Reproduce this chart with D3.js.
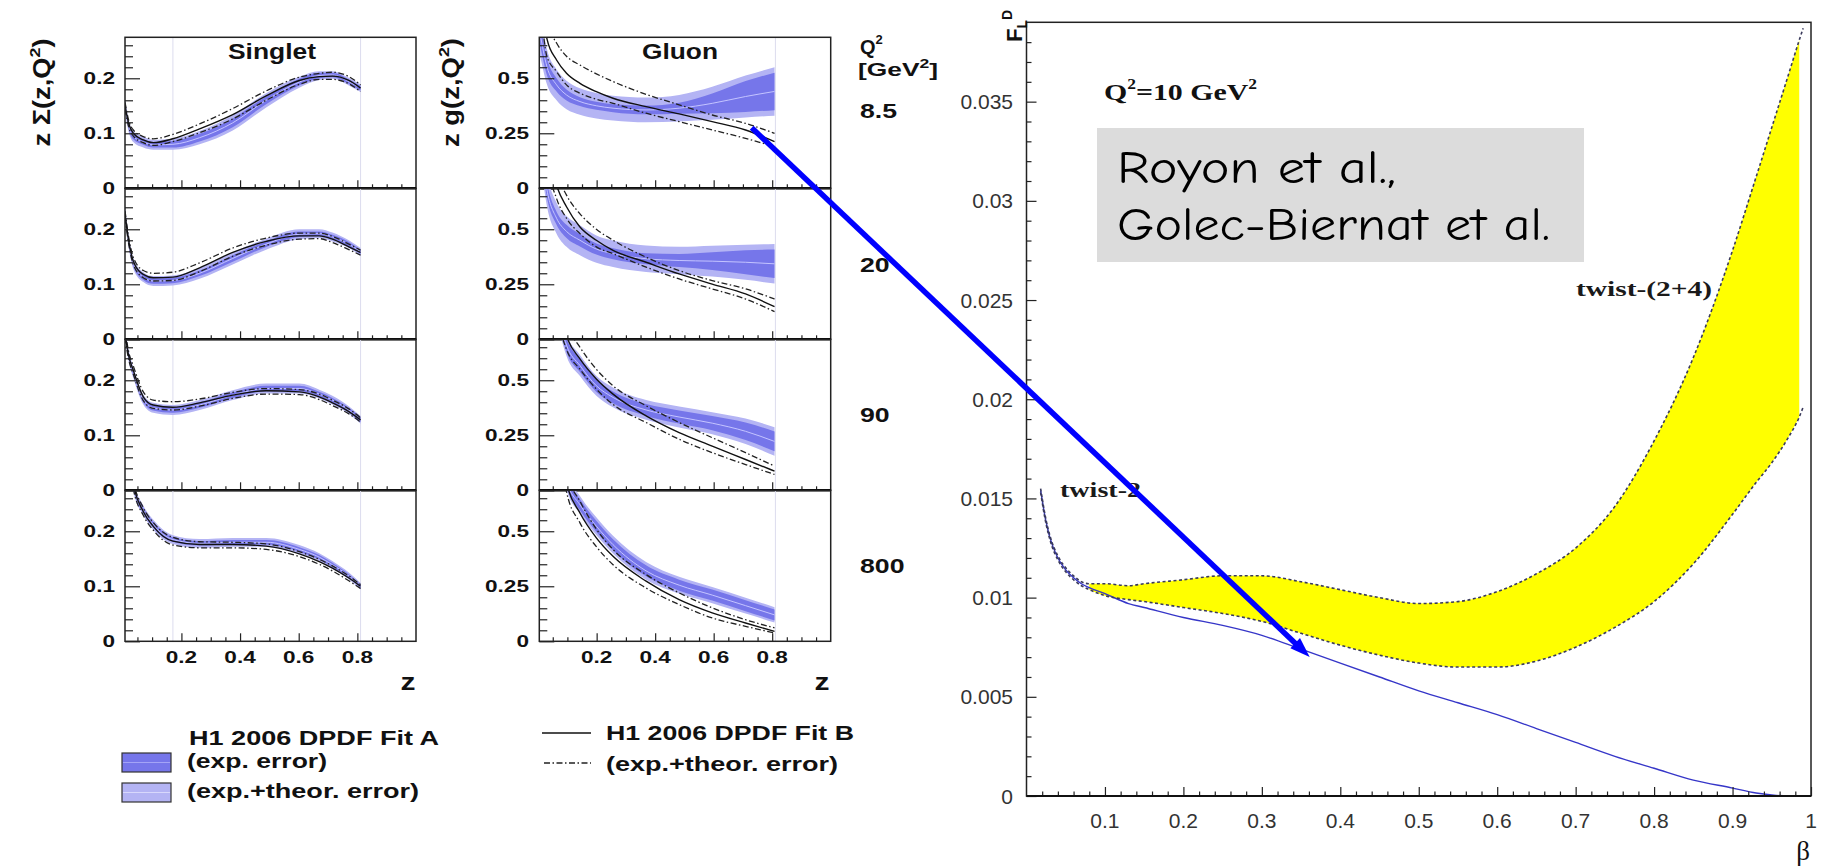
<!DOCTYPE html>
<html>
<head>
<meta charset="utf-8">
<script src="https://cdn.jsdelivr.net/npm/d3@7"></script>
<style>
  html, body { margin: 0; padding: 0; background: #ffffff; }
  svg { display: block; }
</style>
</head>
<body>
<svg id="chart" width="1822" height="866"></svg>
<script>
// ---------------- data ----------------
const q2Values = ["8.5", "20", "90", "800"];

// Singlet z Sigma(z,Q^2): z grid and curves per Q^2 bin
const singletZ = [0.0078, 0.02, 0.036, 0.07, 0.104, 0.171, 0.262, 0.375, 0.489, 0.602, 0.670, 0.715, 0.771, 0.811];
const singletFitA = [
  [0.150, 0.114, 0.094, 0.084, 0.079, 0.080, 0.092, 0.119, 0.160, 0.193, 0.205, 0.206, 0.194, 0.182],
  [0.230, 0.178, 0.138, 0.113, 0.106, 0.107, 0.120, 0.147, 0.173, 0.191, 0.192, 0.186, 0.173, 0.159],
  [0.285, 0.245, 0.214, 0.165, 0.150, 0.146, 0.155, 0.173, 0.185, 0.185, 0.175, 0.164, 0.146, 0.128],
  [0.400, 0.340, 0.283, 0.238, 0.212, 0.185, 0.178, 0.180, 0.180, 0.167, 0.153, 0.139, 0.119, 0.100]
];
const singletExpErr = [
  [0.006, 0.006, 0.005, 0.005, 0.005, 0.006, 0.007, 0.008, 0.007, 0.006, 0.005, 0.004, 0.004, 0.004],
  [0.006, 0.006, 0.005, 0.005, 0.005, 0.005, 0.005, 0.006, 0.005, 0.005, 0.004, 0.004, 0.004, 0.004],
  [0.006, 0.006, 0.005, 0.005, 0.005, 0.005, 0.005, 0.005, 0.005, 0.005, 0.004, 0.004, 0.004, 0.004],
  [0.006, 0.006, 0.005, 0.005, 0.005, 0.004, 0.004, 0.004, 0.004, 0.004, 0.004, 0.004, 0.003, 0.003]
];
const singletTotErr = [
  [0.012, 0.011, 0.010, 0.010, 0.009, 0.010, 0.012, 0.014, 0.013, 0.010, 0.008, 0.007, 0.007, 0.007],
  [0.012, 0.011, 0.010, 0.009, 0.009, 0.009, 0.010, 0.011, 0.010, 0.009, 0.008, 0.008, 0.007, 0.007],
  [0.012, 0.011, 0.010, 0.009, 0.009, 0.009, 0.009, 0.009, 0.009, 0.009, 0.008, 0.008, 0.007, 0.007],
  [0.012, 0.011, 0.010, 0.009, 0.009, 0.008, 0.008, 0.008, 0.008, 0.008, 0.007, 0.007, 0.006, 0.006]
];
const singletFitB = [
  [0.150, 0.118, 0.100, 0.088, 0.083, 0.090, 0.108, 0.134, 0.168, 0.196, 0.203, 0.204, 0.196, 0.182],
  [0.227, 0.180, 0.142, 0.118, 0.112, 0.113, 0.130, 0.158, 0.178, 0.188, 0.188, 0.182, 0.168, 0.158],
  [0.285, 0.245, 0.218, 0.170, 0.155, 0.151, 0.159, 0.173, 0.181, 0.179, 0.170, 0.159, 0.143, 0.128],
  [0.400, 0.340, 0.285, 0.236, 0.209, 0.182, 0.176, 0.176, 0.173, 0.159, 0.145, 0.133, 0.115, 0.100]
];
const singletFitBUp = [
  [0.156, 0.124, 0.106, 0.094, 0.090, 0.098, 0.117, 0.145, 0.177, 0.202, 0.209, 0.211, 0.203, 0.188],
  [0.233, 0.186, 0.149, 0.125, 0.120, 0.122, 0.139, 0.166, 0.184, 0.193, 0.193, 0.187, 0.173, 0.162],
  [0.292, 0.252, 0.226, 0.179, 0.164, 0.161, 0.166, 0.178, 0.185, 0.183, 0.175, 0.164, 0.148, 0.132],
  [0.410, 0.350, 0.293, 0.243, 0.216, 0.189, 0.181, 0.180, 0.177, 0.163, 0.149, 0.137, 0.119, 0.103]
];
const singletFitBDown = [
  [0.144, 0.112, 0.095, 0.083, 0.078, 0.085, 0.101, 0.126, 0.160, 0.189, 0.198, 0.198, 0.190, 0.176],
  [0.221, 0.174, 0.136, 0.112, 0.106, 0.107, 0.123, 0.151, 0.171, 0.182, 0.183, 0.176, 0.163, 0.153],
  [0.278, 0.238, 0.211, 0.163, 0.149, 0.146, 0.153, 0.167, 0.175, 0.174, 0.165, 0.154, 0.139, 0.124],
  [0.390, 0.330, 0.277, 0.229, 0.202, 0.175, 0.170, 0.170, 0.167, 0.154, 0.140, 0.128, 0.110, 0.096]
];

// Gluon z g(z,Q^2)
const gluonZ = [0.007, 0.03, 0.063, 0.097, 0.143, 0.199, 0.256, 0.369, 0.482, 0.595, 0.709, 0.808];
const gluonFitA = [
  [0.70, 0.553, 0.47, 0.424, 0.394, 0.375, 0.364, 0.356, 0.364, 0.386, 0.417, 0.440],
  [0.90, 0.68, 0.55, 0.49, 0.45, 0.41, 0.389, 0.366, 0.358, 0.355, 0.350, 0.343],
  [1.7, 1.15, 0.84, 0.66, 0.567, 0.475, 0.422, 0.365, 0.333, 0.305, 0.268, 0.222],
  [2.5, 1.6, 1.05, 0.73, 0.62, 0.523, 0.439, 0.32, 0.255, 0.21, 0.162, 0.12]
];
const gluonExpErr = [
  [0.05, 0.038, 0.03, 0.025, 0.02, 0.018, 0.018, 0.02, 0.025, 0.045, 0.07, 0.085],
  [0.04, 0.035, 0.03, 0.03, 0.028, 0.025, 0.025, 0.025, 0.03, 0.04, 0.055, 0.065],
  [0.03, 0.03, 0.03, 0.03, 0.03, 0.028, 0.027, 0.027, 0.03, 0.032, 0.04, 0.045],
  [0.025, 0.025, 0.025, 0.025, 0.025, 0.025, 0.025, 0.025, 0.025, 0.025, 0.025, 0.025]
];
const gluonTotErr = [
  [0.10, 0.08, 0.07, 0.065, 0.06, 0.058, 0.056, 0.056, 0.06, 0.075, 0.095, 0.11],
  [0.08, 0.075, 0.07, 0.07, 0.068, 0.062, 0.06, 0.06, 0.062, 0.07, 0.08, 0.09],
  [0.05, 0.05, 0.05, 0.05, 0.048, 0.045, 0.045, 0.045, 0.048, 0.05, 0.058, 0.065],
  [0.04, 0.04, 0.04, 0.04, 0.04, 0.04, 0.04, 0.04, 0.038, 0.037, 0.036, 0.035]
];
const gluonFitB = [
  [0.95, 0.68, 0.583, 0.523, 0.477, 0.439, 0.409, 0.371, 0.338, 0.303, 0.265, 0.212],
  [1.3, 0.90, 0.70, 0.602, 0.51, 0.45, 0.404, 0.35, 0.297, 0.251, 0.206, 0.148],
  [1.8, 1.2, 0.88, 0.70, 0.597, 0.506, 0.437, 0.338, 0.262, 0.201, 0.140, 0.087],
  [2.5, 1.6, 1.05, 0.72, 0.583, 0.47, 0.386, 0.273, 0.189, 0.129, 0.083, 0.045]
];
const gluonFitBUp = [
  [1.05, 0.76, 0.66, 0.60, 0.56, 0.52, 0.485, 0.427, 0.379, 0.333, 0.295, 0.250],
  [1.4, 0.98, 0.76, 0.655, 0.57, 0.50, 0.45, 0.373, 0.312, 0.267, 0.229, 0.183],
  [1.9, 1.3, 0.95, 0.76, 0.65, 0.55, 0.475, 0.384, 0.308, 0.239, 0.171, 0.110],
  [2.6, 1.7, 1.1, 0.77, 0.636, 0.51, 0.417, 0.303, 0.22, 0.152, 0.098, 0.061]
];
const gluonFitBDown = [
  [0.85, 0.60, 0.53, 0.47, 0.432, 0.405, 0.386, 0.341, 0.303, 0.265, 0.227, 0.189],
  [1.2, 0.82, 0.64, 0.55, 0.48, 0.42, 0.389, 0.328, 0.274, 0.229, 0.183, 0.126],
  [1.7, 1.1, 0.80, 0.64, 0.55, 0.46, 0.39, 0.308, 0.232, 0.171, 0.117, 0.072],
  [2.4, 1.5, 1.0, 0.68, 0.538, 0.43, 0.348, 0.242, 0.167, 0.106, 0.068, 0.038]
];

// Diffractive F_L^D at Q^2 = 10 GeV^2 versus beta
const betaValues = [0.018, 0.025, 0.03, 0.04, 0.05, 0.06, 0.07, 0.08, 0.1, 0.13, 0.15, 0.2, 0.25, 0.3, 0.35, 0.4, 0.45, 0.5, 0.55, 0.6, 0.65, 0.7, 0.75, 0.8, 0.85, 0.9, 0.93, 0.95, 0.97, 0.985, 0.99, 1.0];
const twist2 = [0.0154, 0.0138, 0.0130, 0.0120, 0.0114, 0.0110, 0.0107, 0.0105, 0.0102, 0.0097, 0.0095, 0.0090, 0.0086, 0.0081, 0.0074, 0.0067, 0.0060, 0.0053, 0.0047, 0.0041, 0.0034, 0.0027, 0.0020, 0.0014, 0.0008, 0.0004, 0.00015, 0.00005, 0.0, 0.0, 0.0, 0.0];
const twist24Upper = [0.0155, 0.0139, 0.0131, 0.0121, 0.0115, 0.0111, 0.0108, 0.0107, 0.0107, 0.0106, 0.0107, 0.0109, 0.0111, 0.0111, 0.0108, 0.0104, 0.0100, 0.0097, 0.0098, 0.0103, 0.0112, 0.0125, 0.0146, 0.0179, 0.0221, 0.0275, 0.0312, 0.0337, 0.0362, 0.0381, 0.0387, null];
const twist24Lower = [0.0153, 0.0137, 0.0129, 0.0119, 0.0113, 0.0109, 0.0106, 0.0104, 0.0101, 0.0099, 0.0098, 0.0095, 0.0092, 0.0088, 0.0082, 0.0076, 0.0071, 0.0067, 0.0065, 0.0065, 0.0068, 0.0075, 0.0085, 0.0098, 0.0117, 0.0142, 0.0158, 0.0168, 0.0180, 0.0191, 0.0196, null];

const zTickLabels = ["0.2", "0.4", "0.6", "0.8"];
const singletTickLabels = ["0", "0.1", "0.2"];
const gluonTickLabels = ["0", "0.25", "0.5"];
const betaTickLabels = ["0.1", "0.2", "0.3", "0.4", "0.5", "0.6", "0.7", "0.8", "0.9", "1"];
const fldTickLabels = ["0", "0.005", "0.01", "0.015", "0.02", "0.025", "0.03", "0.035"];

// ---------------- styling ----------------
const SANS = "'Liberation Sans', Arial, Helvetica, sans-serif";
const SERIF = "'Liberation Serif', 'Times New Roman', serif";
const HAND = "'Comic Sans MS', 'Comic Neue', 'Noto Sans', sans-serif";
const BAND_TOT = "#b4b4f4";
const BAND_EXP = "#7676ea";
const CENTRAL_A = "#c4c4ff";

const svg = d3.select("#chart");
const defs = svg.append("defs");

// text helper: places a label with optional horizontal stretch / rotation / fixed length
function label(parent, o) {
  const g = parent.append("g")
    .attr("transform", `translate(${o.x},${o.y}) rotate(${o.rotate || 0}) scale(${o.sx || 1},1)`);
  const t = g.append("text")
    .attr("text-anchor", o.anchor || "start")
    .attr("font-family", o.family || SANS)
    .attr("font-weight", o.weight || "bold")
    .attr("font-size", o.size || 16)
    .attr("fill", o.fill || "#111");
  if (o.dy) t.attr("dy", o.dy);
  if (o.len) t.attr("textLength", o.len).attr("lengthAdjust", "spacingAndGlyphs");
  if (o.text !== undefined) t.text(o.text);
  return t;
}

// ---------------- left block: singlet and gluon ----------------
const PANEL_TOP = 37.3, PANEL_H = 151;
const singletX = d3.scaleLinear().domain([0.0076, 1]).range([125, 416]);
const gluonX = d3.scaleLinear().domain([0.004, 1]).range([539.3, 830.7]);

function drawColumn(cfg) {
  const { x, yMax, major, minorStep, labels, grid, A, Aexp, Atot, B, Bup, Bdn, labelX, name, faint } = cfg;
  const [x0, x1] = x.range();
  const gluonCol = name === "gluon";
  const panelScales = [];

  for (let i = 0; i < 4; i++) {
    const top = PANEL_TOP + i * PANEL_H, bottom = top + PANEL_H;
    const y = d3.scaleLinear().domain([0, yMax]).range([bottom, top]);
    panelScales.push(y);
    const clipId = `clip-${name}-${i}`;
    defs.append("clipPath").attr("id", clipId)
      .append("rect").attr("x", x0).attr("y", top).attr("width", x1 - x0).attr("height", PANEL_H);

    const g = svg.append("g");
    const plot = g.append("g").attr("clip-path", `url(#${clipId})`);

    // faint fit-range markers
    faint.forEach(z => {
      plot.append("line").attr("x1", x(z)).attr("x2", x(z)).attr("y1", top).attr("y2", bottom)
        .attr("stroke", "#dcdcee").attr("stroke-width", 1);
    });

    const rows = grid.map((z, k) => ({ z, a: A[i][k], e: Aexp[i][k], t: Atot[i][k], b: B[i][k], bu: Bup[i][k], bd: Bdn[i][k] }));

    const band = (key) => d3.area().curve(d3.curveMonotoneX)
      .x(d => x(d.z)).y0(d => y(d.a - d[key])).y1(d => y(d.a + d[key]));
    const line = (acc) => d3.line().curve(d3.curveMonotoneX).x(d => x(d.z)).y(d => y(acc(d)));

    plot.append("path").datum(rows).attr("d", band("t")).attr("fill", BAND_TOT);
    plot.append("path").datum(rows).attr("d", band("e")).attr("fill", BAND_EXP);
    plot.append("path").datum(rows).attr("d", line(d => d.a)).attr("fill", "none")
      .attr("stroke", CENTRAL_A).attr("stroke-width", 1);
    plot.append("path").datum(rows).attr("d", line(d => d.bu)).attr("fill", "none")
      .attr("stroke", "#222").attr("stroke-width", 1.3).attr("stroke-dasharray", "6,2.5,1.5,2.5");
    plot.append("path").datum(rows).attr("d", line(d => d.bd)).attr("fill", "none")
      .attr("stroke", "#222").attr("stroke-width", 1.3).attr("stroke-dasharray", "6,2.5,1.5,2.5");
    plot.append("path").datum(rows).attr("d", line(d => d.b)).attr("fill", "none")
      .attr("stroke", "#111").attr("stroke-width", 1.4);

    // y ticks (inside the frame)
    const minor = d3.range(0, yMax, minorStep).filter(v => Math.abs(v / major - Math.round(v / major)) > 1e-6);
    const majorVals = d3.range(0, yMax, major);
    const axMinor = g.append("g").attr("transform", `translate(${x0},0)`)
      .call(d3.axisLeft(y).tickValues(minor).tickSize(-8).tickFormat(""));
    const axMajor = g.append("g").attr("transform", `translate(${x0},0)`)
      .call(d3.axisLeft(y).tickValues(majorVals).tickSize(-15).tickFormat(""));
    // x ticks along each panel's bottom edge
    const xMinor = d3.range(0.05, 1.0, 0.05).filter(v => Math.abs(v / 0.2 - Math.round(v / 0.2)) > 1e-6);
    const axXMinor = g.append("g").attr("transform", `translate(0,${bottom})`)
      .call(d3.axisBottom(x).tickValues(xMinor).tickSize(-4).tickFormat(""));
    const axXMajor = g.append("g").attr("transform", `translate(0,${bottom})`)
      .call(d3.axisBottom(x).tickValues([0.2, 0.4, 0.6, 0.8]).tickSize(-8).tickFormat(""));
    [axMinor, axMajor, axXMinor, axXMajor].forEach(ax => {
      ax.select(".domain").remove();
      ax.selectAll("line").attr("stroke", "#222").attr("stroke-width", 1.2);
    });

    // frame
    g.append("rect").attr("x", x0).attr("y", top).attr("width", x1 - x0).attr("height", PANEL_H)
      .attr("fill", "none").attr("stroke", "#222").attr("stroke-width", 1.5);
    if (i < 3) {
      g.append("line").attr("x1", x0).attr("x2", x1).attr("y1", bottom).attr("y2", bottom)
        .attr("stroke", "#000").attr("stroke-width", 2.4);
    }

    // y tick labels
    majorVals.forEach((v, k) => {
      label(svg, { x: labelX, y: y(v), text: labels[k], anchor: "end", size: 16.5, sx: 1.37, dy: "0.36em" });
    });
  }

  // z tick labels under the bottom panel
  const lastBottom = PANEL_TOP + 4 * PANEL_H;
  [0.2, 0.4, 0.6, 0.8].forEach((v, k) => {
    label(svg, { x: x(v), y: lastBottom + 22, text: zTickLabels[k], anchor: "middle", size: 16.5, sx: 1.37 });
  });
  label(svg, { x: gluonCol ? 822 : 408, y: lastBottom + 49, text: "z", anchor: "middle", size: 24, sx: 1.25 });
  return panelScales;
}

drawColumn({
  x: singletX, yMax: 0.2745, major: 0.1, minorStep: 0.02, labels: singletTickLabels,
  grid: singletZ, A: singletFitA, Aexp: singletExpErr, Atot: singletTotErr,
  B: singletFitB, Bup: singletFitBUp, Bdn: singletFitBDown, labelX: 115, name: "singlet", faint: [0.171, 0.811]
});
const gluonScales = drawColumn({
  x: gluonX, yMax: 0.686, major: 0.25, minorStep: 0.05, labels: gluonTickLabels,
  grid: gluonZ, A: gluonFitA, Aexp: gluonExpErr, Atot: gluonTotErr,
  B: gluonFitB, Bup: gluonFitBUp, Bdn: gluonFitBDown, labelX: 529, name: "gluon", faint: [0.811]
});

// column titles
label(svg, { x: 272, y: 59, text: "Singlet", anchor: "middle", size: 22, len: 88 });
label(svg, { x: 680, y: 59, text: "Gluon", anchor: "middle", size: 22, len: 76 });

// rotated y titles
function yTitle(x, y, prefix, len) {
  const t = label(svg, { x, y, rotate: -90, anchor: "middle", size: 23, len });
  t.append("tspan").text(prefix + "(z,Q");
  t.append("tspan").attr("font-size", 15).attr("dy", -10).text("2");
  t.append("tspan").attr("dy", 10).text(")");
}
yTitle(50, 92.5, "z \u03A3", 108);
yTitle(459, 92.5, "z g", 109);

// Q^2 column
{
  const t = label(svg, { x: 860, y: 54, size: 20 });
  t.append("tspan").text("Q");
  t.append("tspan").attr("font-size", 13).attr("dy", -10).text("2");
  const u = label(svg, { x: 858, y: 76, size: 18, len: 80, weight: "bold" });
  u.append("tspan").text("[GeV");
  u.append("tspan").attr("font-size", 12).attr("dy", -8).text("2");
  u.append("tspan").attr("dy", 8).text("]");
  const baselines = [118, 272, 422, 573];
  q2Values.forEach((q, i) => label(svg, { x: 860, y: baselines[i], text: q, size: 21, sx: 1.27 }));
}

// legend
{
  const L = svg.append("g");
  label(L, { x: 189, y: 745, text: "H1 2006 DPDF Fit A", size: 21, len: 250 });
  [[753, BAND_EXP, "#a4a4f6"], [783, BAND_TOT, "#d8d8fc"]].forEach(([yy, fill, mid]) => {
    L.append("rect").attr("x", 122).attr("y", yy).attr("width", 49).attr("height", 19)
      .attr("fill", fill).attr("stroke", "#333").attr("stroke-width", 1.2);
    L.append("line").attr("x1", 123).attr("x2", 170).attr("y1", yy + 9.5).attr("y2", yy + 9.5)
      .attr("stroke", mid).attr("stroke-width", 1.2);
  });
  label(L, { x: 187, y: 768, text: "(exp. error)", size: 21, len: 140 });
  label(L, { x: 187, y: 798, text: "(exp.+theor. error)", size: 21, len: 232 });
  L.append("line").attr("x1", 542).attr("x2", 591).attr("y1", 733).attr("y2", 733)
    .attr("stroke", "#111").attr("stroke-width", 1.5);
  label(L, { x: 606, y: 740, text: "H1 2006 DPDF Fit B", size: 21, len: 248 });
  L.append("line").attr("x1", 544).attr("x2", 591).attr("y1", 763).attr("y2", 763)
    .attr("stroke", "#222").attr("stroke-width", 1.3).attr("stroke-dasharray", "6,2.5,1.5,2.5");
  label(L, { x: 606, y: 771, text: "(exp.+theor. error)", size: 21, len: 232 });
}

// ---------------- right block: F_L^D ----------------
const bX = d3.scaleLinear().domain([0, 1]).range([1026.5, 1811]);
const fY = d3.scaleLinear().domain([0, 0.039]).range([796, 22.3]);
const rows = betaValues.map((b, k) => ({ b, t2: twist2[k], up: twist24Upper[k], lo: twist24Lower[k] }));
const R = svg.append("g");

R.append("path").datum(rows.filter(d => d.b >= 0.08 && d.b <= 0.985))
  .attr("d", d3.area().curve(d3.curveMonotoneX).x(d => bX(d.b)).y0(d => fY(d.lo)).y1(d => fY(d.up)))
  .attr("fill", "#ffff00");
R.append("path").datum(rows)
  .attr("d", d3.line().curve(d3.curveMonotoneX).x(d => bX(d.b)).y(d => fY(d.t2)))
  .attr("fill", "none").attr("stroke", "#3636c8").attr("stroke-width", 1.4);
["up", "lo"].forEach(key => {
  R.append("path").datum(rows.filter(d => d[key] !== null))
    .attr("d", d3.line().curve(d3.curveMonotoneX).x(d => bX(d.b)).y(d => fY(d[key])))
    .attr("fill", "none").attr("stroke", "#3a3a5c").attr("stroke-width", 1.6).attr("stroke-dasharray", "3,2.5");
});

// axes (ticks pointing inward)
{
  const yMinor = d3.range(0.001, 0.039, 0.001).filter(v => Math.abs(v / 0.005 - Math.round(v / 0.005)) > 1e-6);
  const yMajor = d3.range(0, 0.0351, 0.005);
  const xMinor = d3.range(0.02, 1.0, 0.02).filter(v => Math.abs(v / 0.1 - Math.round(v / 0.1)) > 1e-6);
  const xMajor = d3.range(0.1, 1.01, 0.1);
  const axes = [
    R.append("g").attr("transform", `translate(${bX(0)},0)`).call(d3.axisLeft(fY).tickValues(yMinor).tickSize(-5).tickFormat("")),
    R.append("g").attr("transform", `translate(${bX(0)},0)`).call(d3.axisLeft(fY).tickValues(yMajor).tickSize(-10).tickFormat("")),
    R.append("g").attr("transform", `translate(0,${fY(0)})`).call(d3.axisBottom(bX).tickValues(xMinor).tickSize(-4.5).tickFormat("")),
    R.append("g").attr("transform", `translate(0,${fY(0)})`).call(d3.axisBottom(bX).tickValues(xMajor).tickSize(-9).tickFormat(""))
  ];
  axes.forEach(ax => { ax.select(".domain").remove(); ax.selectAll("line").attr("stroke", "#222").attr("stroke-width", 1.2); });

  R.append("rect").attr("x", bX(0)).attr("y", fY(0.039)).attr("width", bX(1) - bX(0)).attr("height", fY(0) - fY(0.039))
    .attr("fill", "none").attr("stroke", "#222").attr("stroke-width", 1.5);
  R.append("line").attr("x1", bX(0)).attr("x2", bX(1)).attr("y1", fY(0)).attr("y2", fY(0))
    .attr("stroke", "#111").attr("stroke-width", 2.2);

  yMajor.forEach((v, k) => label(R, { x: 1013, y: fY(v), text: fldTickLabels[k], anchor: "end", size: 21, weight: "normal", fill: "#333", dy: "0.36em" }));
  xMajor.forEach((v, k) => label(R, { x: bX(v), y: 828, text: betaTickLabels[k], anchor: "middle", size: 21, weight: "normal", fill: "#333" }));
  label(R, { x: 1803, y: 860, text: "\u03B2", anchor: "middle", size: 27, weight: "normal", family: SERIF });

  const f = label(R, { x: 1022, y: 42, rotate: -90, size: 22 });
  f.append("tspan").text("F");
  f.append("tspan").attr("font-size", 14).attr("dy", 5).text("L");
  f.append("tspan").attr("font-size", 14).attr("dy", -15).text("D");
}

// annotations
{
  const q = label(R, { x: 1104, y: 100, size: 24, family: SERIF, len: 153 });
  q.append("tspan").text("Q");
  q.append("tspan").attr("font-size", 14).attr("dy", -11).text("2");
  q.append("tspan").attr("dy", 11).text("=10 GeV");
  q.append("tspan").attr("font-size", 14).attr("dy", -11).text("2");

  R.append("rect").attr("x", 1097).attr("y", 128).attr("width", 487).attr("height", 134).attr("fill", "#dcdcdc");
  label(R, { x: 1117, y: 183, text: "Royon et al.,", size: 46, weight: "normal", family: HAND, len: 279, fill: "#000" });
  label(R, { x: 1117, y: 240, text: "Golec-Biernat et al.", size: 46, weight: "normal", family: HAND, len: 433, fill: "#000" });

  label(R, { x: 1576, y: 296, text: "twist-(2+4)", size: 22, family: SERIF, len: 136, fill: "#1a1a1a" });
  label(R, { x: 1060, y: 497, text: "twist-2", size: 22, family: SERIF, len: 81, fill: "#1a1a1a" });
}

// arrow from the gluon density at Q^2 = 8.5 GeV^2 to the twist-2 curve
{
  const start = [gluonX(0.73), gluonScales[0](0.275)];
  const end = [bX(0.361), fY(0.00701)];
  const ang = Math.atan2(end[1] - start[1], end[0] - start[0]);
  const headLen = 20, headW = 7;
  const lineEnd = [end[0] - Math.cos(ang) * (headLen - 4), end[1] - Math.sin(ang) * (headLen - 4)];
  svg.append("line").attr("x1", start[0]).attr("y1", start[1]).attr("x2", lineEnd[0]).attr("y2", lineEnd[1])
    .attr("stroke", "#0000ff").attr("stroke-width", 5.5);
  const bx = end[0] - Math.cos(ang) * headLen, by = end[1] - Math.sin(ang) * headLen;
  const px = -Math.sin(ang) * headW, py = Math.cos(ang) * headW;
  svg.append("path")
    .attr("d", `M${end[0]},${end[1]} L${bx + px},${by + py} L${bx - px},${by - py} Z`)
    .attr("fill", "#0000ff");
}
</script>
</body>
</html>
